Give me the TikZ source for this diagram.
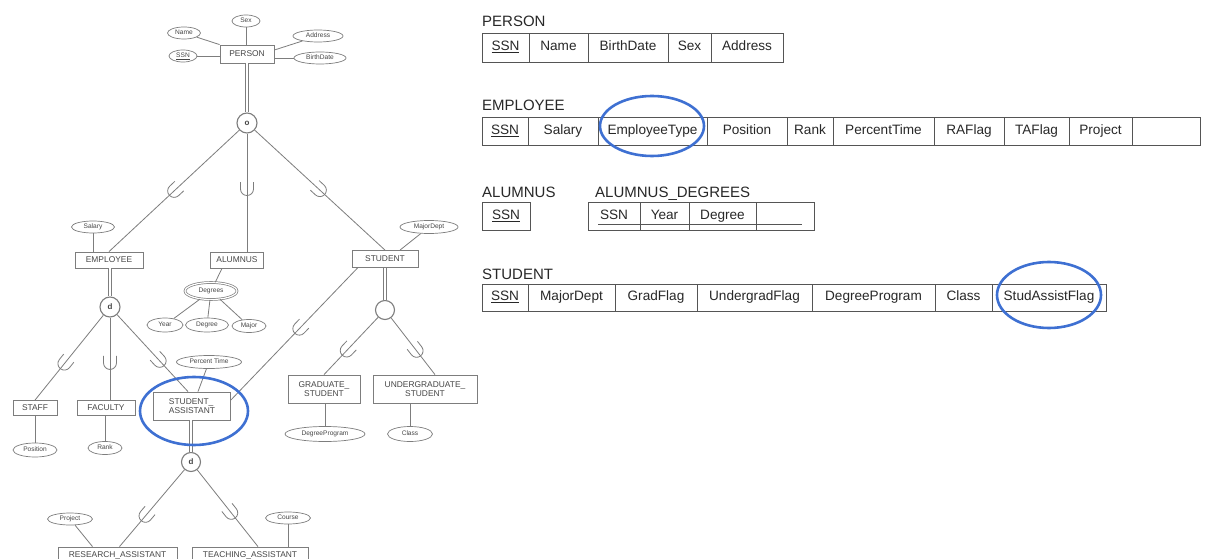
\documentclass[tikz,border=0pt]{standalone}
\usepackage{fontspec}
\setmainfont{Liberation Sans}
\usetikzlibrary{shapes.geometric,calc}
\definecolor{erline}{RGB}{125,125,125}
\definecolor{ertext}{RGB}{70,70,70}
\definecolor{tabline}{RGB}{85,85,85}
\definecolor{tabtext}{RGB}{40,40,40}
\definecolor{hilite}{RGB}{62,112,210}

% specialization link: line from superclass to subclass with the subset sign on it
\newcommand\isa[3]{%
  \draw[conn] #1 -- #2 coordinate[pos=#3] (isam);
  \path let \p1=($#1-#2$), \n1={atan2(\y1,\x1)} in (isam) pic[rotate=\n1-90] {subsetmark};
}

\begin{document}
\begin{tikzpicture}[x=1pt,y=1pt,
  conn/.style={draw=erline, line width=0.8pt},
  total/.style={draw=erline, line width=0.7pt, double=white, double distance=1.8pt},
  entity/.style={draw=erline, line width=0.8pt, rectangle, inner sep=0pt, fill=white,
    font=\fontsize{8.4}{9.5}\selectfont, text=ertext, align=center},
  attr/.style={draw=erline, line width=0.7pt, ellipse, inner sep=0pt, fill=white,
    font=\fontsize{6.6}{7}\selectfont, text=ertext, text height=4.8pt, text depth=1.4pt},
  gen/.style={draw=erline, line width=1.1pt, circle, minimum size=20pt, inner sep=0pt, fill=white,
    font=\bfseries\fontsize{8}{8}\selectfont, text=ertext},
  cell/.style={draw=tabline, line width=0.9pt, rectangle, anchor=west, inner sep=0pt, outer sep=0pt,
    font=\fontsize{13.6}{14}\selectfont, text=tabtext, text height=9.8pt, text depth=2.9pt},
  title/.style={anchor=base west, inner sep=0pt, font=\fontsize{15}{16}\selectfont, text=tabtext},
  ring/.style={draw=hilite, line width=2.6pt},
  subsetmark/.pic={\draw[conn] (-6.5,7) -- (-6.5,0) arc[start angle=180,end angle=360,radius=6.5] -- (6.5,7);}
]
\useasboundingbox (0,0) rectangle (1208,-559);
\fill[white] (0,0) rectangle (1208,-559);
\clip (0,0) rectangle (1208,-559);

% ---------------- EER schema ----------------
\node[entity, minimum width=54pt, minimum height=18pt] (person) at (247,-54) {PERSON};
\node[attr, minimum width=28pt, minimum height=12pt] (sex) at (246,-21) {Sex};
\node[attr, minimum width=33pt, minimum height=12pt] (name) at (184,-33) {Name};
\node[attr, minimum width=28pt, minimum height=12pt] (ssn) at (183,-56) {\underline{SSN}};
\node[attr, minimum width=50pt, minimum height=12pt] (addr) at (318,-36) {Address};
\node[attr, minimum width=52pt, minimum height=12pt] (bdate) at (320,-58) {BirthDate};
\draw[conn] (sex) -- (sex |- person.north);
\draw[conn] (name) -- (person.north west);
\draw[conn] (ssn) -- (ssn -| person.west);
\draw[conn] (addr) -- ([yshift=4pt]person.east);
\draw[conn] (bdate) -- (bdate -| person.east);

\node[gen] (o) at (247,-123) {o};
\draw[total] (person) -- (o);

\node[entity, minimum width=68pt, minimum height=16pt] (emp) at (109,-260) {EMPLOYEE};
\node[entity, minimum width=53pt, minimum height=16pt] (alum) at (237,-260) {ALUMNUS};
\node[entity, minimum width=66pt, minimum height=17pt] (stud) at (385,-259) {STUDENT};
\isa{(o)}{(emp.north)}{0.5}
\isa{(o)}{(o |- alum.north)}{0.47}
\isa{(o)}{(stud.north)}{0.5}

\node[attr, minimum width=43pt, minimum height=12pt] (salary) at (93,-227) {Salary};
\draw[conn] (salary) -- (salary |- emp.north);
\node[attr, minimum width=58pt, minimum height=13pt] (mdept) at (429,-227) {MajorDept};
\draw[conn] (mdept) -- ([xshift=15pt]stud.north);

% multivalued composite attribute of ALUMNUS
\node[attr, double=white, double distance=1.2pt, minimum width=52pt, minimum height=17pt] (degs) at (211,-291) {Degrees};
\draw[conn] ([xshift=-15pt]alum.south) -- (degs);
\node[attr, minimum width=36pt, minimum height=14pt] (year) at (165,-325) {Year};
\node[attr, minimum width=43pt, minimum height=14pt] (degree) at (207,-325) {Degree};
\node[attr, minimum width=34pt, minimum height=13pt] (major) at (249,-326) {Major};
\draw[conn] (degs) -- (year);
\draw[conn] (degs) -- (degree);
\draw[conn] (degs) -- (major);

% EMPLOYEE specialization
\node[gen] (d1) at (110,-307) {d};
\draw[total] (d1 |- emp.south) -- (d1);
\node[entity, minimum width=44pt, minimum height=15pt] (staff) at (35,-408) {STAFF};
\node[entity, minimum width=58pt, minimum height=15pt] (faculty) at (106,-408) {FACULTY};
\node[entity, minimum width=77pt, minimum height=28pt, align=left] (sa) at (192,-406) {STUDENT\_\\ASSISTANT};
\isa{(d1)}{(staff.north)}{0.57}
\isa{(d1)}{(d1 |- faculty.north)}{0.55}
\isa{(d1)}{([xshift=-4pt]sa.north)}{0.6}

\node[attr, minimum width=44pt, minimum height=14pt] (position) at (35,-450) {Position};
\node[attr, minimum width=34pt, minimum height=13pt] (rank) at (105,-448) {Rank};
\draw[conn] (staff) -- (position);
\draw[conn] (faculty.south -| rank) -- (rank);
\node[attr, minimum width=65pt, minimum height=13pt] (ptime) at (209,-362) {Percent Time};
\draw[conn] (ptime) -- ([xshift=6pt]sa.north);

% STUDENT specialization
\node[gen, minimum size=19pt] (sc) at (385,-310) {};
\draw[total] (sc |- stud.south) -- (sc);
\node[entity, minimum width=72pt, minimum height=28pt] (gs) at (324,-389) {GRADUATE\_\\STUDENT};
\node[entity, minimum width=104pt, minimum height=28pt] (ugs) at (425,-389) {UNDERGRADUATE\_\\STUDENT};
\isa{(sc)}{(gs.north)}{0.58}
\isa{(sc)}{([xshift=10pt]ugs.north)}{0.58}
\isa{([xshift=6pt]stud.south west)}{([yshift=6pt]sa.east)}{0.46}

\node[attr, minimum width=80pt, minimum height=15pt] (dprog) at (325,-434) {DegreeProgram};
\node[attr, minimum width=45pt, minimum height=15pt] (class) at (410,-434) {Class};
\draw[conn] (gs.south -| dprog) -- (dprog);
\draw[conn] (ugs.south -| class) -- (class);

% STUDENT_ASSISTANT specialization
\node[gen, minimum size=19pt] (d2) at (191,-462) {d};
\draw[total] (d2 |- sa.south) -- (d2);
\node[entity, minimum width=119pt, minimum height=16pt] (ra) at (117.5,-555) {RESEARCH\_ASSISTANT};
\node[entity, minimum width=116pt, minimum height=16pt] (ta) at (250,-555) {TEACHING\_ASSISTANT};
\isa{(d2)}{([xshift=2pt]ra.north)}{0.6}
\isa{(d2)}{([xshift=8pt]ta.north)}{0.56}
\node[attr, minimum width=45pt, minimum height=12pt] (project) at (70,-519) {Project};
\node[attr, minimum width=45pt, minimum height=12pt] (course) at (288,-518) {Course};
\draw[conn] (project) -- ([xshift=-25pt]ra.north);
\draw[conn] (course) -- (course |- ta.north);

\draw[ring] (194,-411) ellipse[x radius=54, y radius=34];

% ---------------- relations ----------------
\node[title] (tper) at (482,-27) {PERSON};
\begin{scope}[every node/.append style={minimum height=29pt}]
\node[cell, minimum width=47pt] (pe1) at (482,-47.5) {\underline{SSN}};
\node[cell, minimum width=59pt] (pe2) at (pe1.east) {Name};
\node[cell, minimum width=80pt] (pe3) at (pe2.east) {BirthDate};
\node[cell, minimum width=43pt] (pe4) at (pe3.east) {Sex};
\node[cell, minimum width=72pt] (pe5) at (pe4.east) {Address};
\end{scope}

\node[title] (temp) at (482,-111) {EMPLOYEE};
\begin{scope}[every node/.append style={minimum height=28pt}]
\node[cell, minimum width=46pt] (em1) at (482,-131) {\underline{SSN}};
\node[cell, minimum width=70pt] (em2) at (em1.east) {Salary};
\node[cell, minimum width=109pt] (em3) at (em2.east) {EmployeeType};
\node[cell, minimum width=80pt] (em4) at (em3.east) {Position};
\node[cell, minimum width=46pt] (em5) at (em4.east) {Rank};
\node[cell, minimum width=101pt] (em6) at (em5.east) {PercentTime};
\node[cell, minimum width=70pt] (em7) at (em6.east) {RAFlag};
\node[cell, minimum width=65pt] (em8) at (em7.east) {TAFlag};
\node[cell, minimum width=63pt] (em9) at (em8.east) {Project};
\node[cell, minimum width=68pt] (em10) at (em9.east) {};
\end{scope}
\draw[ring] (652,-126) ellipse[x radius=52, y radius=30];

\node[title] (talu) at (482,-197) {ALUMNUS};
\node[title] (tad) at (595,-197) {ALUMNUS\_DEGREES};
\begin{scope}[every node/.append style={minimum height=28pt}]
\node[cell, minimum width=48pt] (al1) at (482,-216) {\underline{SSN}};
\node[cell, minimum width=52pt] (ad1) at (588,-216) {SSN};
\node[cell, minimum width=49pt] (ad2) at (ad1.east) {Year};
\node[cell, minimum width=67pt] (ad3) at (ad2.east) {Degree};
\node[cell, minimum width=58pt] (ad4) at (ad3.east) {};
\end{scope}
\draw[draw=tabline, line width=0.8pt] ([shift={(10pt,6pt)}]ad1.south west) -- ([shift={(-12pt,6pt)}]ad4.south east);

\node[title] (tstu) at (482,-279) {STUDENT};
\begin{scope}[every node/.append style={minimum height=27pt}]
\node[cell, minimum width=46pt] (st1) at (482,-297.5) {\underline{SSN}};
\node[cell, minimum width=87pt] (st2) at (st1.east) {MajorDept};
\node[cell, minimum width=82pt] (st3) at (st2.east) {GradFlag};
\node[cell, minimum width=115pt] (st4) at (st3.east) {UndergradFlag};
\node[cell, minimum width=123pt] (st5) at (st4.east) {DegreeProgram};
\node[cell, minimum width=57pt] (st6) at (st5.east) {Class};
\node[cell, minimum width=114pt] (st7) at (st6.east) {StudAssistFlag};
\end{scope}
\draw[ring] (1049,-295) ellipse[x radius=52, y radius=33];
\end{tikzpicture}
\end{document}
